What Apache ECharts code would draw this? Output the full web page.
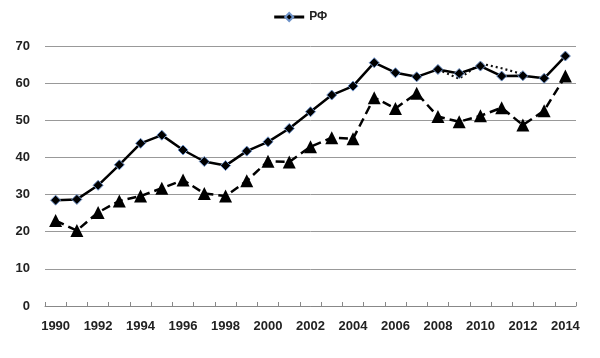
<!DOCTYPE html>
<html>
<head>
<meta charset="utf-8">
<script src="https://cdn.jsdelivr.net/npm/echarts@6/dist/echarts.min.js"></script>
<style>html,body{margin:0;padding:0;background:#fff;}#c{width:600px;height:358px;}</style>
</head>
<body>
<div id="c"></div>
<script>
const years = ['1990','1991','1992','1993','1994','1995','1996','1997','1998','1999','2000','2001','2002','2003','2004','2005','2006','2007','2008','2009','2010','2011','2012','2013','2014'];
const rf = [28.5,28.7,32.5,38.0,43.8,46.0,42.0,38.9,37.8,41.7,44.2,47.8,52.3,56.8,59.2,65.5,62.8,61.7,63.7,62.6,64.6,61.9,62.0,61.3,67.3];
const second = [23.0,20.3,25.2,28.3,29.6,31.7,33.9,30.3,29.6,33.7,39.0,38.8,42.9,45.3,45.0,56.1,53.2,57.3,51.0,49.6,51.2,53.4,48.7,52.6,61.9];
const third = [null,null,null,null,null,null,null,null,null,null,null,null,null,null,null,null,null,null,63.7,61.2,65.3,64.0,62.4,null,null];
const yTicks = {min:0, max:70, interval:10};

const font = 'Liberation Sans, Arial, sans-serif';
const chart = echarts.init(document.getElementById('c'), null, {renderer:'canvas'});
chart.setOption({
  animation:false,
  backgroundColor:'#fff',
  legend:{
    data:['РФ'],
    top:6, left:'center',
    itemWidth:30, itemHeight:10, itemGap:6,
    lineStyle:{width:3},
    textStyle:{fontFamily:font, fontWeight:'bold', fontSize:12, color:'#222'}
  },
  grid:{left:45, right:24, top:46, bottom:52},
  xAxis:{
    type:'category', data:years, boundaryGap:true,
    axisLine:{lineStyle:{color:'#888', width:1}},
    axisTick:{show:true, inside:true, length:4, interval:0, lineStyle:{color:'#888'}},
    axisLabel:{interval:1, margin:14, fontFamily:font, fontWeight:'bold', fontSize:13, color:'#222'},
    splitLine:{show:false}
  },
  yAxis:{
    type:'value', min:yTicks.min, max:yTicks.max, interval:yTicks.interval,
    axisLine:{show:false}, axisTick:{show:false},
    axisLabel:{margin:15, fontFamily:font, fontWeight:'bold', fontSize:13, color:'#222'},
    splitLine:{lineStyle:{color:'#999', width:1}}
  },
  series:[
    {
      name:'third', type:'line', data:third, connectNulls:false,
      symbol:'none', lineStyle:{color:'#111', width:2.2, type:[2,3]}, z:1
    },
    {
      name:'second', type:'line', data:second,
      symbol:'triangle', symbolSize:13,
      itemStyle:{color:'#000'},
      lineStyle:{color:'#000', width:2.5, type:[9,5]}, z:2
    },
    {
      name:'РФ', type:'line', data:rf,
      symbol:'diamond', symbolSize:10,
      itemStyle:{color:'#000', borderColor:'#6f93c9', borderWidth:1},
      lineStyle:{color:'#000', width:2.5}, z:3
    }
  ]
});
</script>
</body>
</html>
